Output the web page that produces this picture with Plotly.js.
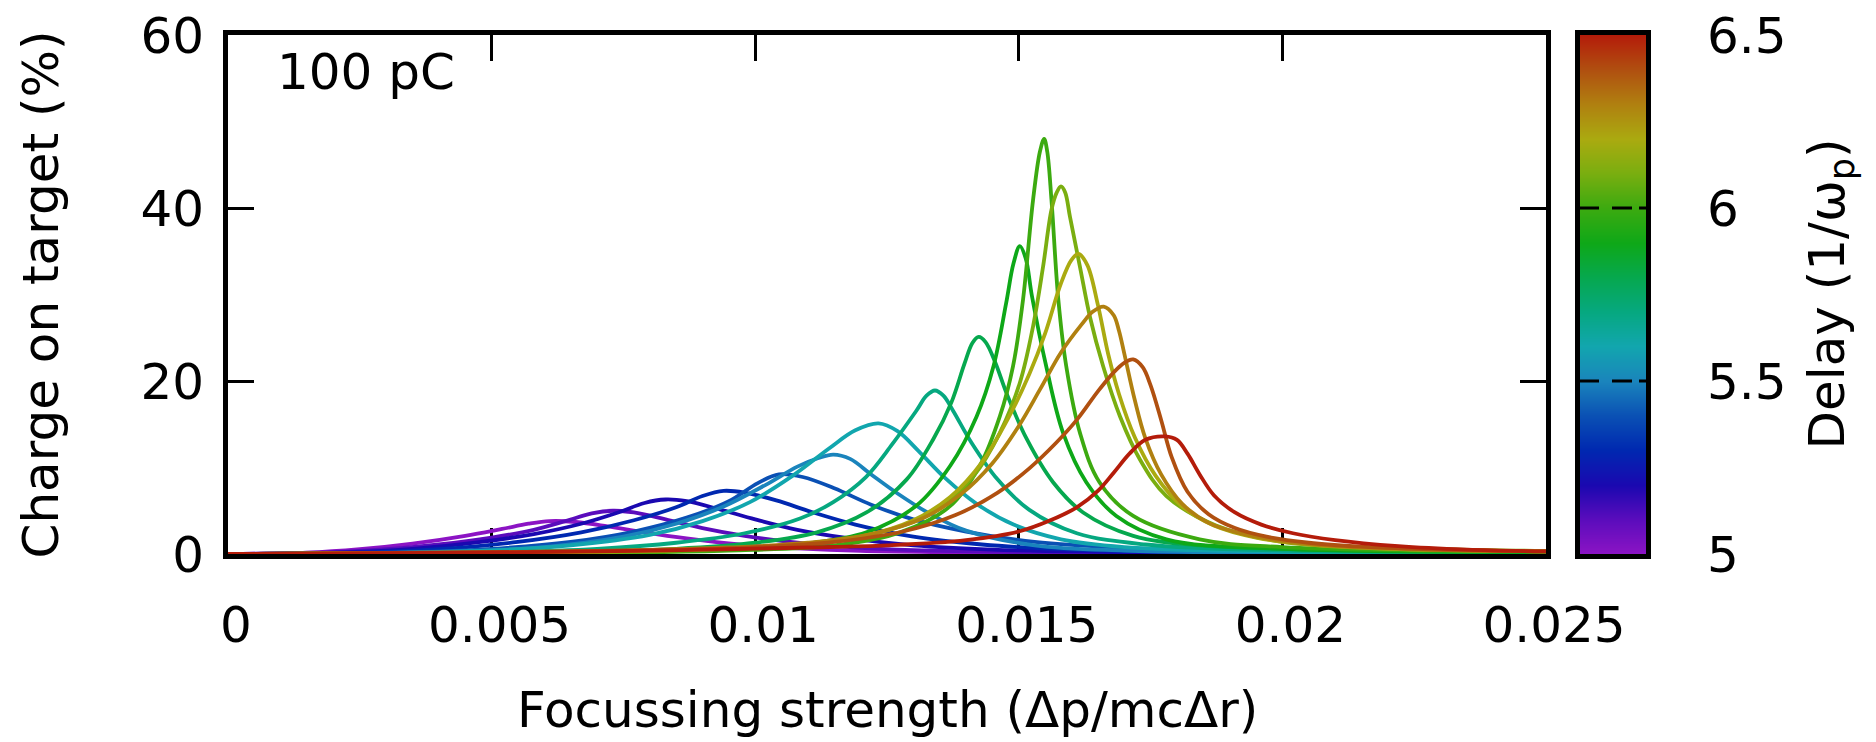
<!DOCTYPE html>
<html>
<head>
<meta charset="utf-8">
<script src="https://cdn.plot.ly/plotly-3.0.1.min.js"></script>
<style>
html,body{margin:0;padding:0;background:#fff;}
#chart{width:1876px;height:742px;}
</style>
</head>
<body>
<div id="chart"></div>
<script>
// ---- Data ----
const delays = [5.0, 5.1, 5.2, 5.3, 5.4, 5.5, 5.6, 5.7, 5.8, 5.9, 6.0, 6.1, 6.2, 6.3, 6.4, 6.5];

const x50 = [0, 0.0015, 0.0025, 0.0035, 0.0045, 0.0052, 0.0057, 0.0061, 0.0066, 0.0072, 0.0079, 0.0087, 0.0097, 0.0108, 0.012, 0.014, 0.017, 0.020, 0.025];
const y50 = [0, 0.15, 0.55, 1.2, 2.1, 2.9, 3.5, 3.8, 3.7, 3.2, 2.5, 1.8, 1.1, 0.65, 0.35, 0.18, 0.08, 0.05, 0.02];

const x51 = [0, 0.002, 0.003, 0.004, 0.005, 0.0058, 0.0064, 0.0069, 0.0073, 0.0077, 0.0083, 0.009, 0.0098, 0.0108, 0.0118, 0.013, 0.015, 0.018, 0.021, 0.025];
const y51 = [0, 0.2, 0.55, 1.1, 1.9, 2.8, 3.8, 4.7, 5.0, 4.8, 4.0, 3.0, 2.1, 1.3, 0.8, 0.45, 0.22, 0.1, 0.06, 0.03];

const x52 = [0, 0.002, 0.0035, 0.0048, 0.0058, 0.0067, 0.0074, 0.0079, 0.0083, 0.0087, 0.0093, 0.010, 0.0108, 0.0118, 0.013, 0.0145, 0.0165, 0.019, 0.025];
const y52 = [0, 0.15, 0.6, 1.4, 2.3, 3.5, 4.8, 5.9, 6.3, 6.1, 5.2, 4.0, 2.8, 1.8, 1.0, 0.5, 0.25, 0.12, 0.04];

const x53 = [0, 0.0025, 0.004, 0.0055, 0.0067, 0.0077, 0.0085, 0.009, 0.0094, 0.0098, 0.0104, 0.0111, 0.0119, 0.013, 0.0143, 0.016, 0.018, 0.021, 0.025];
const y53 = [0, 0.15, 0.55, 1.4, 2.5, 3.9, 5.4, 6.7, 7.3, 7.1, 6.2, 4.8, 3.4, 2.0, 1.1, 0.5, 0.25, 0.12, 0.05];

const x54 = [0, 0.003, 0.005, 0.0065, 0.0077, 0.0087, 0.0095, 0.01005, 0.01045, 0.0109, 0.0115, 0.0122, 0.013, 0.014, 0.0153, 0.017, 0.019, 0.022, 0.025];
const y54 = [0, 0.15, 0.6, 1.4, 2.6, 4.2, 6.1, 8.2, 9.2, 8.9, 7.6, 5.7, 4.0, 2.6, 1.4, 0.7, 0.35, 0.15, 0.08];

const x55 = [0, 0.004, 0.006, 0.0075, 0.0085, 0.0094, 0.0102, 0.0108, 0.0112, 0.01148, 0.0118, 0.0122, 0.0127, 0.0133, 0.014, 0.0153, 0.017, 0.020, 0.025];
const y55 = [0, 0.25, 0.8, 2.0, 3.5, 5.5, 8.0, 10.1, 11.1, 11.5, 11.0, 9.2, 7.0, 4.7, 2.7, 1.0, 0.4, 0.15, 0.08];

const x56 = [0, 0.0045, 0.0065, 0.008, 0.009, 0.0099, 0.0107, 0.0114, 0.0119, 0.01234, 0.0127, 0.0131, 0.0136, 0.0142, 0.0149, 0.0158, 0.0170, 0.0190, 0.025];
const y56 = [0, 0.3, 1.0, 2.2, 3.8, 6.0, 9.0, 12.2, 14.3, 15.1, 14.2, 11.9, 8.8, 5.8, 3.4, 1.7, 0.8, 0.35, 0.1];

const x57 = [0, 0.005, 0.007, 0.0085, 0.0098, 0.01085, 0.01148, 0.0121, 0.0126, 0.01305, 0.01325, 0.01341, 0.01357, 0.01375, 0.0141, 0.0146, 0.0152, 0.0161, 0.0174, 0.020, 0.025];
const y57 = [0, 0.2, 0.6, 1.3, 2.4, 4.1, 6.0, 8.9, 12.7, 16.5, 18.3, 18.9, 18.3, 16.6, 12.9, 8.6, 5.1, 2.4, 1.1, 0.4, 0.15];

const x58 = [0, 0.006, 0.0085, 0.010, 0.01117, 0.01211, 0.01287, 0.01338, 0.01372, 0.01397, 0.01412, 0.01424, 0.01437, 0.01455, 0.01478, 0.01515, 0.01565, 0.01622, 0.01717, 0.01843, 0.021, 0.025];
const y58 = [0, 0.2, 0.6, 1.3, 2.5, 4.8, 8.6, 13.3, 17.5, 22.0, 24.4, 25.1, 24.5, 22.2, 18.4, 13.3, 8.3, 4.8, 2.1, 1.0, 0.45, 0.2];

const x59 = [0, 0.007, 0.0095, 0.011, 0.01211, 0.01306, 0.0137, 0.0142, 0.01452, 0.01476, 0.0149, 0.01502, 0.01513, 0.01525, 0.01552, 0.01584, 0.01628, 0.01685, 0.0178, 0.0200, 0.025];
const y59 = [0, 0.2, 0.6, 1.2, 2.5, 5.6, 10.2, 15.9, 21.7, 29.0, 33.6, 35.6, 34.2, 29.8, 21.7, 14.0, 8.3, 4.4, 1.7, 0.6, 0.25];

const x60 = [0, 0.007, 0.0095, 0.0115, 0.01275, 0.01369, 0.01426, 0.01464, 0.01489, 0.01508, 0.01527, 0.0154, 0.01548, 0.01554, 0.01562, 0.01575, 0.0159, 0.01616, 0.01653, 0.01717, 0.01843, 0.020, 0.025];
const y60 = [0, 0.15, 0.4, 1.0, 2.5, 5.5, 10.2, 15.9, 21.7, 29.4, 40.9, 46.5, 48.0, 46.5, 40.9, 29.4, 21.7, 14.0, 8.3, 4.4, 1.7, 0.8, 0.3];

const x61 = [0, 0.008, 0.0105, 0.01211, 0.01338, 0.01414, 0.01464, 0.01502, 0.01527, 0.01546, 0.01562, 0.01572, 0.0158, 0.01588, 0.01597, 0.01616, 0.01635, 0.0166, 0.01692, 0.0173, 0.0178, 0.01874, 0.020, 0.0215, 0.025];
const y61 = [0, 0.3, 0.9, 2.1, 4.8, 9.0, 14.0, 19.8, 26.3, 33.2, 39.8, 41.8, 42.5, 41.8, 39.0, 33.2, 27.4, 21.7, 15.9, 10.9, 6.7, 3.3, 1.4, 0.8, 0.35];

const x62 = [0, 0.006, 0.0085, 0.0105, 0.012, 0.013, 0.0137, 0.0143, 0.0148, 0.0152, 0.0155, 0.0158, 0.0160, 0.01613, 0.0163, 0.0165, 0.0167, 0.0169, 0.0172, 0.0176, 0.0181, 0.0187, 0.0195, 0.0205, 0.022, 0.025];
const y62 = [0, 0.18, 0.45, 0.95, 2.0, 3.9, 6.6, 10.6, 15.7, 20.8, 25.5, 31.3, 34.0, 34.7, 33.4, 28.8, 23.0, 18.5, 13.5, 9.0, 5.5, 3.3, 1.9, 1.1, 0.6, 0.3];

const x63 = [0, 0.005, 0.0075, 0.0095, 0.011, 0.0122, 0.0132, 0.0139, 0.0145, 0.015, 0.0154, 0.0158, 0.0162, 0.0164, 0.01661, 0.0168, 0.0169, 0.0170, 0.0172, 0.0174, 0.0177, 0.0181, 0.0186, 0.0192, 0.0200, 0.021, 0.0225, 0.025];
const y63 = [0, 0.18, 0.4, 0.75, 1.3, 2.3, 4.2, 6.9, 10.5, 14.8, 19.0, 23.3, 26.6, 28.0, 28.6, 27.6, 25.8, 23.2, 17.8, 13.4, 9.2, 5.8, 3.6, 2.4, 1.5, 0.9, 0.55, 0.3];

const x64 = [0, 0.005, 0.008, 0.010, 0.0115, 0.0128, 0.0138, 0.0146, 0.0152, 0.0157, 0.0161, 0.0165, 0.0168, 0.0170, 0.01717, 0.01735, 0.0175, 0.0177, 0.0179, 0.0182, 0.0186, 0.0191, 0.0197, 0.0205, 0.0215, 0.023, 0.025];
const y64 = [0, 0.2, 0.45, 0.8, 1.4, 2.6, 4.5, 7.1, 9.9, 12.8, 15.5, 18.8, 21.0, 22.1, 22.5, 21.6, 19.5, 15.5, 11.2, 7.2, 4.6, 3.0, 2.0, 1.3, 0.85, 0.5, 0.3];

const x65 = [0, 0.004, 0.007, 0.009, 0.011, 0.0125, 0.014, 0.015, 0.0156, 0.0161, 0.0165, 0.0168, 0.0171, 0.0174, 0.01777, 0.0180, 0.0182, 0.01843, 0.0187, 0.0191, 0.0196, 0.0202, 0.021, 0.0222, 0.0235, 0.025];
const y65 = [0, 0.12, 0.3, 0.5, 0.75, 1.0, 1.6, 2.6, 3.9, 5.4, 7.3, 9.4, 11.6, 13.2, 13.6, 13.2, 11.6, 9.2, 6.8, 4.8, 3.4, 2.4, 1.6, 0.9, 0.5, 0.3];

const curveX = [x50, x51, x52, x53, x54, x55, x56, x57, x58, x59, x60, x61, x62, x63, x64, x65];
const curveY = [y50, y51, y52, y53, y54, y55, y56, y57, y58, y59, y60, y61, y62, y63, y64, y65];

const xTickVals = [0, 0.005, 0.01, 0.015, 0.02, 0.025];
const xTickText = ['0', '0.005', '0.01', '0.015', '0.02', '0.025'];
const yTickVals = [0, 20, 40, 60];
const cbTickVals = [5, 5.5, 6, 6.5];
const cbTickText = ['5', '5.5', '6', '6.5'];
const cbDashVals = [5.5, 6];
const delayMin = 5.0, delayMax = 6.5;

// ---- Colour map (style) ----
const csPos = [0, 0.0667, 0.1333, 0.2, 0.2667, 0.3333, 0.4, 0.4667, 0.5333, 0.6, 0.6667, 0.7333, 0.8, 0.8667, 0.9333, 1];
const csCol = ['#8c14c4','#5a0cbc','#1a08b0','#0028b0','#0a50b4','#1a84bc','#12a6ae','#06a880','#06a84e','#0ea818','#3caa10','#7aae10','#aaaa10','#b08010','#b05010','#b41c0a'];
const colorscale = csPos.map((p, i) => [p, csCol[i]]);

function hexToRgb(h){return [parseInt(h.slice(1,3),16),parseInt(h.slice(3,5),16),parseInt(h.slice(5,7),16)];}
function colorAt(v){
  const t = (v - delayMin) / (delayMax - delayMin);
  for (let i = 0; i < csPos.length - 1; i++) {
    if (t <= csPos[i+1] + 1e-9) {
      const f = Math.max(0, Math.min(1, (t - csPos[i]) / (csPos[i+1] - csPos[i])));
      const a = hexToRgb(csCol[i]), b = hexToRgb(csCol[i+1]);
      const c = a.map((av, k) => Math.round(av + (b[k] - av) * f));
      return 'rgb(' + c.join(',') + ')';
    }
  }
  return csCol[csCol.length - 1];
}

const FONT = 'DejaVu Sans, Liberation Sans, sans-serif';
const FS = 50;
const tf = {family: FONT, size: FS, color: '#000'};

const traces = delays.map((d, i) => ({
  type: 'scatter', mode: 'lines',
  x: curveX[i], y: curveY[i], xaxis: 'x', yaxis: 'y',
  line: {color: colorAt(d), width: 3.8, shape: 'spline', smoothing: 1},
  showlegend: false, hoverinfo: 'skip', cliponaxis: true
}));

// colour box: a heatmap of the delay values on its own axes
traces.push({
  type: 'heatmap', xaxis: 'x2', yaxis: 'y2',
  x: [0, 1], y: delays, z: delays.map(d => [d, d]),
  zmin: delayMin, zmax: delayMax, colorscale: colorscale,
  zsmooth: 'best', showscale: false, hoverinfo: 'skip'
});

// paper spans x 228..1646 px, y 35..554 px
const PW = 1418;
const px = v => (v - 228) / PW;

const axisCommon = {
  showline: true, linewidth: 5, linecolor: '#000', mirror: 'ticks',
  ticks: 'inside', ticklen: 26, tickwidth: 3, tickcolor: '#000',
  showgrid: false, zeroline: false, layer: 'below traces',
  tickfont: tf, fixedrange: true
};

const shapes = cbDashVals.map(v => ({
  type: 'line', xref: 'x2', yref: 'y2',
  x0: -0.5, x1: 1.5, y0: v, y1: v,
  line: {color: '#000', width: 3, dash: '19px,13px,20px,7px'}, layer: 'above'
}));

const layout = {
  width: 1876, height: 742,
  margin: {l: 228, r: 230, t: 35, b: 188, pad: 0},
  paper_bgcolor: '#fff', plot_bgcolor: 'rgba(0,0,0,0)',
  showlegend: false,
  font: tf,
  xaxis: Object.assign({}, axisCommon, {
    domain: [0, px(1546)], anchor: 'y',
    range: [0, 0.025], autorange: false,
    tickmode: 'array', tickvals: xTickVals, ticktext: xTickText,
    ticklabelstandoff: 23, ticklabelshift: 8
  }),
  yaxis: Object.assign({}, axisCommon, {
    domain: [0, 1], anchor: 'x',
    range: [0, 60], autorange: false,
    tickmode: 'array', tickvals: yTickVals,
    ticklabelstandoff: 9
  }),
  xaxis2: {
    domain: [px(1580), 1], anchor: 'y2',
    range: [-0.5, 1.5], autorange: false,
    showline: true, linewidth: 5, linecolor: '#000', mirror: true,
    ticks: '', showticklabels: false, showgrid: false, zeroline: false, fixedrange: true
  },
  yaxis2: {
    domain: [0, 1], anchor: 'x2', side: 'right',
    range: [delayMin, delayMax], autorange: false,
    showline: true, linewidth: 5, linecolor: '#000', mirror: true,
    ticks: '', tickmode: 'array', tickvals: cbTickVals, ticktext: cbTickText,
    tickfont: tf, ticklabelstandoff: 46,
    showgrid: false, zeroline: false, fixedrange: true
  },
  shapes: shapes,
  annotations: [
    {text: '100 pC', xref: 'paper', yref: 'paper', x: px(275), y: (554 - 72) / 519,
     xanchor: 'left', yanchor: 'middle', showarrow: false, font: tf},
    {text: 'Focussing strength (Δp/mcΔr)', xref: 'paper', yref: 'paper', x: px(887), y: (554 - 710) / 519,
     xanchor: 'center', yanchor: 'middle', showarrow: false, font: tf},
    {text: 'Charge on target (%)', xref: 'paper', yref: 'paper', x: px(40), y: 0.5,
     xanchor: 'center', yanchor: 'middle', textangle: -90, showarrow: false, font: tf},
    {text: 'Delay (1/ω<sub>p</sub>)', xref: 'paper', yref: 'paper', x: px(1830), y: 0.5,
     xanchor: 'center', yanchor: 'middle', textangle: -90, showarrow: false, font: tf}
  ]
};

Plotly.newPlot('chart', traces, layout, {displayModeBar: false, staticPlot: true});
</script>
</body>
</html>
